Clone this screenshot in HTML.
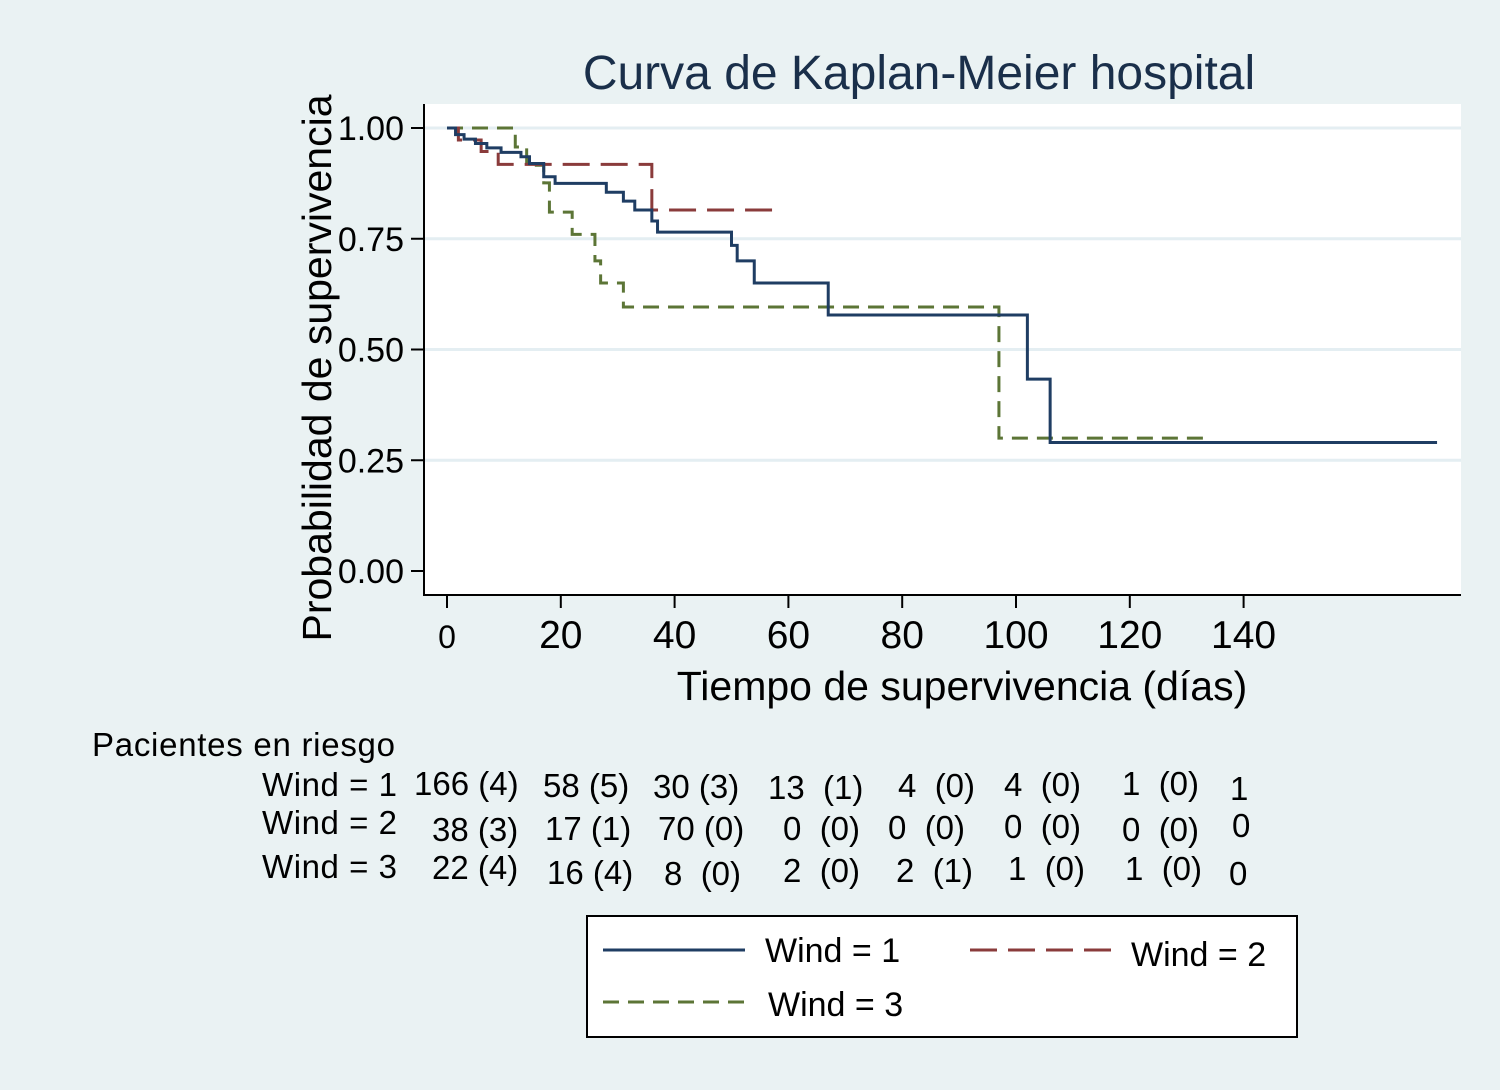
<!DOCTYPE html>
<html><head><meta charset="utf-8"><style>
body{margin:0;background:#eaf2f3;}
svg{display:block;font-family:"Liberation Sans",Arial,sans-serif;}
</style></head><body>
<svg id="chart" width="1500" height="1090" viewBox="0 0 1500 1090">
<rect x="0" y="0" width="1500" height="1090" fill="#eaf2f3"/>
<text x="919" y="89" font-size="48" text-anchor="middle" fill="#1a2f4a">Curva de Kaplan-Meier hospital</text>
<rect x="424" y="104" width="1037" height="491" fill="#fff"/>
<g id="grid"></g>
<g id="axes"></g>
<g id="series"></g>
<text transform="translate(331,368) rotate(-90)" font-size="41" text-anchor="middle" fill="#000">Probabilidad de supervivencia</text>
<text x="962" y="700" font-size="41" text-anchor="middle" fill="#000">Tiempo de supervivencia (días)</text>
<g font-size="33" fill="#000">
<text x="92" y="756" textLength="303">Pacientes en riesgo</text>
<text x="262" y="796" textLength="135">Wind = 1</text>
<text x="262" y="834" textLength="135">Wind = 2</text>
<text x="262" y="878" textLength="135">Wind = 3</text>
<text x="414" y="795">166 (4)</text>
<text x="543" y="797">58 (5)</text><text x="653" y="798">30 (3)</text><text x="768" y="799">13 &#160;(1)</text>
<text x="898" y="797">4 &#160;(0)</text><text x="1004" y="796">4 &#160;(0)</text><text x="1122" y="795">1 &#160;(0)</text><text x="1230" y="800">1</text>
<text x="432" y="841">38 (3)</text>
<text x="545" y="840">17 (1)</text><text x="658" y="840">70 (0)</text><text x="783" y="840">0 &#160;(0)</text>
<text x="888" y="839">0 &#160;(0)</text><text x="1004" y="838">0 &#160;(0)</text><text x="1122" y="841">0 &#160;(0)</text><text x="1232" y="837">0</text>
<text x="432" y="879">22 (4)</text>
<text x="547" y="884">16 (4)</text><text x="664" y="885">8 &#160;(0)</text><text x="783" y="882">2 &#160;(0)</text>
<text x="896" y="882">2 &#160;(1)</text><text x="1008" y="880">1 &#160;(0)</text><text x="1125" y="880">1 &#160;(0)</text><text x="1229" y="885">0</text>
</g>
<g>
<rect x="587" y="916" width="710" height="121" fill="#fff" stroke="#000" stroke-width="2"/>
<line x1="603" y1="950" x2="745" y2="950" stroke="#1f3d63" stroke-width="3"/>
<text x="765" y="962" font-size="34">Wind = 1</text>
<line x1="970" y1="950" x2="1112" y2="950" stroke="#8a3b3b" stroke-width="3" stroke-dasharray="27,11"/>
<text x="1131" y="966" font-size="34">Wind = 2</text>
<line x1="603" y1="1002" x2="745" y2="1002" stroke="#5c7536" stroke-width="3" stroke-dasharray="16,9"/>
<text x="768" y="1016" font-size="34">Wind = 3</text>
</g>
</svg>
<script>
const xTicks=[0,20,40,60,80,100,120,140];
const yTicks=[0,0.25,0.5,0.75,1];
const yTickLabels=["0.00","0.25","0.50","0.75","1.00"];
const w1Times=[0,1.5,3,5,7,9.5,13,14.5,17,19,28,31,33,36,37,50,51,54,67,102,106,174];
const w1Surv=[1,0.985,0.975,0.965,0.955,0.945,0.935,0.92,0.89,0.875,0.855,0.835,0.815,0.79,0.765,0.735,0.70,0.65,0.578,0.433,0.29,0.29];
const w2Times=[0,2,6,9,36,59];
const w2Surv=[1,0.973,0.947,0.918,0.815,0.815];
const w3Times=[0,12,14,17,18,22,26,27,31,97,133];
const w3Surv=[1,0.957,0.916,0.876,0.81,0.76,0.70,0.65,0.596,0.30,0.30];
const NS="http://www.w3.org/2000/svg";
const xs=t=>447+t*5.69;
const ys=v=>571-v*443;
function mk(tag,attrs,parent){const e=document.createElementNS(NS,tag);for(const k in attrs)e.setAttribute(k,attrs[k]);parent.appendChild(e);return e;}
const grid=document.getElementById('grid'),axes=document.getElementById('axes'),ser=document.getElementById('series');
yTicks.forEach((v,i)=>{
  if(v>0){const g=mk('line',{x1:425,x2:1461,y1:ys(v),y2:ys(v),stroke:'#e4eef2','stroke-width':3},grid);
  
  }
  const t=mk('line',{x1:411,x2:424,y1:ys(v),y2:ys(v),stroke:'#000','stroke-width':2},axes);
  
  
  const l=mk('text',{x:404,y:ys(v)+12,'font-size':34,'text-anchor':'end'},axes);l.textContent=yTickLabels[i];
  
  
});
xTicks.forEach(t=>{
  const tk=mk('line',{x1:xs(t),x2:xs(t),y1:595,y2:608,stroke:'#000','stroke-width':2},axes);
  
  
  const l=mk('text',{x:xs(t),y:648,'font-size':t==0?32:39,'text-anchor':'middle'},axes);l.textContent=t;
  
  
});
const ya=mk('line',{x1:424,x2:424,y1:104,y2:596,stroke:'#000','stroke-width':2},axes);


const xa=mk('line',{x1:423,x2:1461,y1:595,y2:595,stroke:'#000','stroke-width':2},axes);


function step(T,S){let d='M'+xs(T[0])+','+ys(S[0]);for(let i=1;i<T.length;i++){d+=' H'+xs(T[i])+' V'+ys(S[i]);}return d;}
function draw(T,S,color,dash,name){const p=mk('path',{d:step(T,S),fill:'none',stroke:color,'stroke-width':3,'stroke-dasharray':dash},ser);

}
draw(w3Times,w3Surv,'#5c7536','16,9','curve-wind-3');
draw(w2Times,w2Surv,'#8a3b3b','27,11','curve-wind-2');
draw(w1Times,w1Surv,'#1f3d63','none','curve-wind-1');
</script>
</body></html>
